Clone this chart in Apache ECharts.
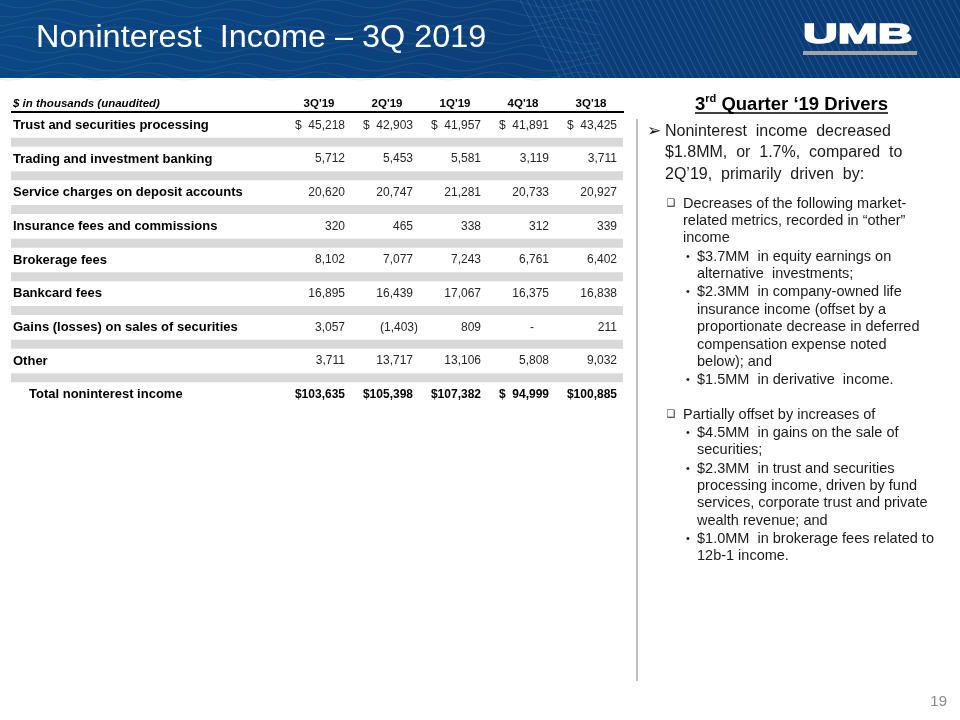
<!DOCTYPE html>
<html><head><meta charset="utf-8">
<script src="https://cdn.jsdelivr.net/npm/echarts@6/dist/echarts.min.js"></script>
<style>html,body{margin:0;padding:0;background:#fff}#c{width:960px;height:720px}</style>
</head><body><div id="c"></div>
<script>
// ---- data ----
const columns = ["3Q'19", "2Q'19", "1Q'19", "4Q'18", "3Q'18"];
const rowLabels = [
  "Trust and securities processing",
  "Trading and investment banking",
  "Service charges on deposit accounts",
  "Insurance fees and commissions",
  "Brokerage fees",
  "Bankcard fees",
  "Gains (losses) on sales of securities",
  "Other",
  "Total noninterest income"
];
const q3_19 = [45218, 5712, 20620, 320, 8102, 16895, 3057, 3711, 103635];
const q2_19 = [42903, 5453, 20747, 465, 7077, 16439, -1403, 13717, 105398];
const q1_19 = [41957, 5581, 21281, 338, 7243, 17067, 809, 13106, 107382];
const q4_18 = [41891, 3119, 20733, 312, 6761, 16375, 0, 5808, 94999];
const q3_18 = [43425, 3711, 20927, 339, 6402, 16838, 211, 9032, 100885];
const headerLabel = "$ in thousands (unaudited)";

const driversTitle = ["3", "rd", " Quarter \u201819 Drivers"];
const mainLines = ["Noninterest  income  decreased", "$1.8MM,  or  1.7%,  compared  to", "2Q\u201919,  primarily  driven  by:"];
const group1 = ["Decreases of the following market-", "related metrics, recorded in \u201cother\u201d", "income"];
const group1Bullets = [
  ["$3.7MM  in equity earnings on", "alternative  investments;"],
  ["$2.3MM  in company-owned life", "insurance income (offset by a", "proportionate decrease in deferred", "compensation expense noted", "below); and"],
  ["$1.5MM  in derivative  income."]
];
const group2 = ["Partially offset by increases of"];
const group2Bullets = [
  ["$4.5MM  in gains on the sale of", "securities;"],
  ["$2.3MM  in trust and securities", "processing income, driven by fund", "services, corporate trust and private", "wealth revenue; and"],
  ["$1.0MM  in brokerage fees related to", "12b-1 income."]
];

// ---- build ----
const seriesByColumn = [q3_19, q2_19, q1_19, q4_18, q3_18];
const FONT = "'Liberation Sans', Arial, Helvetica, sans-serif";
const lastRow = rowLabels.length - 1;

function fmt(v) {
  if (v === 0) return '-';
  const s = Math.abs(v).toLocaleString('en-US');
  return v < 0 ? '(' + s + ')' : s;
}
const cellData = [];
seriesByColumn.forEach((arr, c) => arr.forEach((v, r) => cellData.push([c, r, v])));
const rowData = rowLabels.map((_, i) => [0, i]);
const bandData = rowLabels.slice(0, -1).map((_, i) => [0, i]);
const headData = columns.map((_, c) => [c, 0]);

const mctx = document.createElement('canvas').getContext('2d');
function mw(text, font) { mctx.font = font; return mctx.measureText(text).width; }

const G = [];
// header band
G.push({type: 'rect', shape: {x: 0, y: 0, width: 960, height: 78}, style: {fill: new echarts.graphic.LinearGradient(0, 0, 1, 0, [{offset: 0, color: '#0c4684'}, {offset: 0.55, color: '#0b3f7b'}, {offset: 1, color: '#0a3a72'}])}, z: 0});
for (let k = 0; k < 9; k++) {
  const pts = [];
  const y0 = 4 + k * 9, ph = k * 0.9;
  for (let x = 0; x <= 600; x += 6) pts.push([x, y0 + 4 * Math.sin(x / 14 + ph)]);
  G.push({type: 'polyline', shape: {points: pts}, style: {stroke: 'rgba(70,170,160,0.2)', lineWidth: 1, fill: null}, z: 1});
}
for (let x = 520; x < 990; x += 7) {
  G.push({type: 'line', shape: {x1: x, y1: 0, x2: x + 40, y2: 78}, style: {stroke: 'rgba(120,170,230,0.26)', lineWidth: 1}, z: 1});
}
G.push({type: 'text', x: 36, y: 38.5, scaleX: 1.045, z: 5, style: {text: 'Noninterest  Income \u2013 3Q 2019', fill: '#ffffff', fontFamily: FONT, fontSize: 31, align: 'left', verticalAlign: 'middle'}});
// logo
G.push({type: 'text', x: 803, y: 35.5, scaleX: 1.75, z: 5, style: {text: 'UMB', fill: '#ffffff', stroke: '#ffffff', lineWidth: 1.4, fontFamily: FONT, fontWeight: 'bold', fontSize: 27.5, align: 'left', verticalAlign: 'middle'}});
G.push({type: 'rect', shape: {x: 803, y: 51, width: 114, height: 4}, style: {fill: '#a3a3a3'}, z: 5});

// table header
G.push({type: 'text', x: 13, y: 104, style: {text: headerLabel, fill: '#000', fontFamily: FONT, fontSize: 11.5, fontWeight: 'bold', fontStyle: 'italic', align: 'left', verticalAlign: 'middle'}});
G.push({type: 'line', shape: {x1: 11, y1: 112, x2: 624, y2: 112}, style: {stroke: '#000', lineWidth: 2}});

// right panel
G.push({type: 'line', shape: {x1: 637, y1: 119, x2: 637, y2: 681}, style: {stroke: '#c0c0c0', lineWidth: 2}});
const tFont = "bold 18.5px " + FONT, sFont = "bold 11px " + FONT;
const w0 = mw(driversTitle[0], tFont), w1 = mw(driversTitle[1], sFont), w2 = mw(driversTitle[2], tFont);
const tx = 791.5 - (w0 + w1 + w2) / 2;
G.push({type: 'text', x: tx, y: 104.5, style: {text: driversTitle[0], fill: '#000', font: tFont, align: 'left', verticalAlign: 'middle'}});
G.push({type: 'text', x: tx + w0, y: 98.5, style: {text: driversTitle[1], fill: '#000', font: sFont, align: 'left', verticalAlign: 'middle'}});
G.push({type: 'text', x: tx + w0 + w1, y: 104.5, style: {text: driversTitle[2], fill: '#000', font: tFont, align: 'left', verticalAlign: 'middle'}});
G.push({type: 'line', shape: {x1: tx, y1: 113, x2: tx + w0 + w1 + w2, y2: 113}, style: {stroke: '#000', lineWidth: 1.4}});

const TXT = '#1a1a1a';
function T(text, x, y, size, fam) {
  G.push({type: 'text', x: x, y: y, style: {text: text, fill: TXT, fontFamily: fam || FONT, fontSize: size, align: 'left', verticalAlign: 'middle'}});
}
T('\u27a2', 647, 131.5, 17, "'DejaVu Sans'");
mainLines.forEach((s, i) => T(s, 665, 131.5 + i * 21.5, 16));
const LH = 17.4;
let y = 203.5;
function para(lines, x, bullet, bx, bsize) {
  T(bullet, bx, y, bsize, bullet === '\u2022' ? FONT : "'DejaVu Sans'");
  lines.forEach((s, i) => { T(s, x, y, 14.5); y += LH; });
  y += 0.9;
}
para(group1, 683, '\u2751', 666.5, 10);
group1Bullets.forEach(b => para(b, 697, '\u2022', 686, 11));
y += 16;
para(group2, 683, '\u2751', 666.5, 10);
group2Bullets.forEach(b => para(b, 697, '\u2022', 686, 11));

G.push({type: 'text', x: 947, y: 702, style: {text: '19', fill: '#8a8a8a', fontFamily: FONT, fontSize: 15, align: 'right', verticalAlign: 'middle'}});

// ---- chart ----
const chart = echarts.init(document.getElementById('c'));
const option = {
  animation: false,
  backgroundColor: '#ffffff',
  grid: {left: 286, top: 108.5, width: 340, height: 303},
  xAxis: {type: 'category', data: columns, show: false},
  yAxis: {type: 'category', data: rowLabels, inverse: true, show: false},
  graphic: G,
  series: [
    {
      type: 'custom', silent: true, clip: false, z: 1, data: bandData,
      renderItem: function (params, api) {
        const p = api.coord([0, api.value(1)]);
        const bw = api.size([0, 1])[1];
        return {type: 'rect', shape: {x: 11, y: p[1] + bw / 2 - 4.5, width: 612, height: 9}, style: {fill: '#d9d9d9'}};
      }
    },
    {
      type: 'custom', silent: true, clip: false, z: 2, data: headData,
      renderItem: function (params, api) {
        const c = api.value(0);
        const p = api.coord([c, 0]);
        return {type: 'text', style: {text: columns[c], x: p[0] - 1, y: p[1] - 21.3, align: 'center', verticalAlign: 'middle', fontFamily: FONT, fontSize: 11.5, fontWeight: 'bold', fill: '#000'}};
      }
    },
    {
      type: 'custom', silent: true, clip: false, z: 2, data: rowData,
      renderItem: function (params, api) {
        const r = api.value(1);
        const p = api.coord([0, r]);
        return {type: 'text', style: {text: rowLabels[r], x: r === lastRow ? 29 : 13, y: p[1], align: 'left', verticalAlign: 'middle', fontFamily: FONT, fontSize: 13, fontWeight: 'bold', fill: '#000'}};
      }
    },
    {
      type: 'custom', silent: true, clip: false, z: 2, data: cellData,
      renderItem: function (params, api) {
        const c = api.value(0), r = api.value(1), v = api.value(2);
        const p = api.coord([c, r]);
        const right = p[0] + 25;
        const bold = r === lastRow;
        const fill = bold ? '#000' : '#262626';
        let x = right, align = 'right';
        if (v < 0) x = right + 5;
        if (v === 0) { x = right - 17; align = 'center'; }
        const children = [{type: 'text', style: {text: fmt(v), x: x, y: p[1], align: align, verticalAlign: 'middle', fontFamily: FONT, fontSize: 12, fontWeight: bold ? 'bold' : 'normal', fill: fill}}];
        if (r === 0 || r === lastRow) {
          children.push({type: 'text', style: {text: '$', x: p[0] - 25, y: p[1], align: 'left', verticalAlign: 'middle', fontFamily: FONT, fontSize: 12, fontWeight: bold ? 'bold' : 'normal', fill: fill}});
        }
        return {type: 'group', children: children};
      }
    }
  ]
};
chart.setOption(option);
</script>
</body></html>
